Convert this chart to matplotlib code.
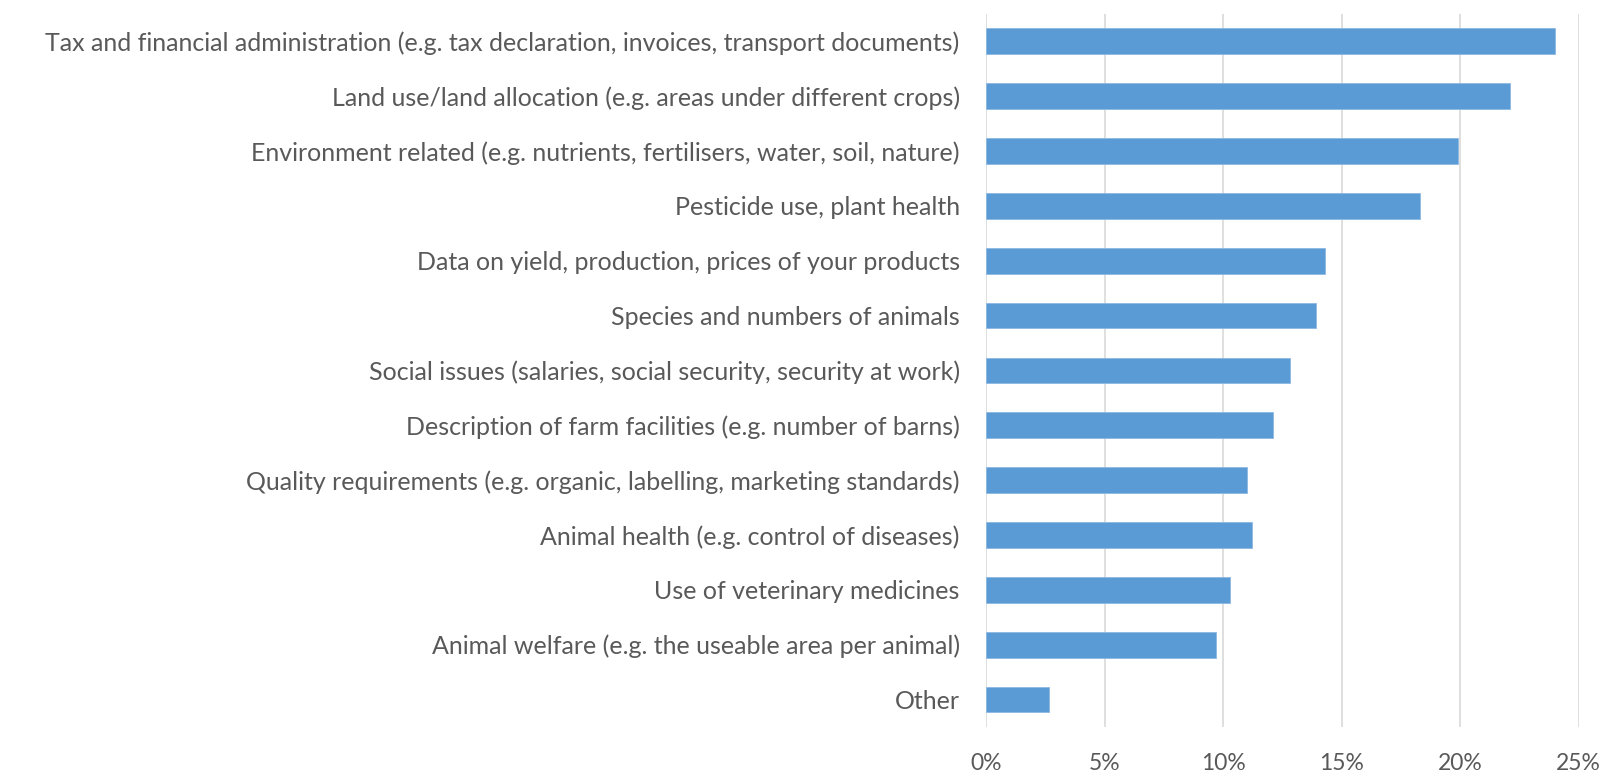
import matplotlib
matplotlib.use("Agg")
import matplotlib.pyplot as plt
from matplotlib.ticker import FuncFormatter

plt.rcParams["font.family"] = ["Lato", "DejaVu Sans"]

# categories, top to bottom as in the chart
categories = [
    "Tax and financial administration (e.g. tax declaration, invoices, transport documents)",
    "Land use/land allocation (e.g. areas under different crops)",
    "Environment related (e.g. nutrients, fertilisers, water, soil, nature)",
    "Pesticide use, plant health",
    "Data on yield, production, prices of your products",
    "Species and numbers of animals",
    "Social issues (salaries, social security, security at work)",
    "Description of farm facilities (e.g. number of barns)",
    "Quality requirements (e.g. organic, labelling, marketing standards)",
    "Animal health (e.g. control of diseases)",
    "Use of veterinary medicines",
    "Animal welfare (e.g. the useable area per animal)",
    "Other",
]
shares = [24.0, 22.1, 19.9, 18.3, 14.3, 13.9, 12.8, 12.1, 11.0, 11.2, 10.3, 9.7, 2.65]
x_ticks = [0, 5, 10, 15, 20, 25]

TEXT = "#595959"
BAR = "#5B9BD5"
GRID = "#D9D9D9"

fig = plt.figure(figsize=(16.06, 7.75), dpi=100)
ax = fig.add_axes([0.614, 0.062, 0.369, 0.920])

ypos = list(range(len(categories)))
ax.barh(ypos, shares, height=0.47, color=BAR, edgecolor="#8DB8E2", linewidth=0.6, zorder=3)
ax.set_ylim(len(categories) - 0.5, -0.5)
ax.set_xlim(0, 25)
ax.set_yticks(ypos)
ax.set_yticklabels(categories, fontsize=18, color=TEXT)
ax.set_xticks(x_ticks)
ax.xaxis.set_major_formatter(FuncFormatter(lambda v, p: f"{v:.0f}%"))
ax.tick_params(axis="y", length=0, pad=19)
ax.tick_params(axis="x", length=0, pad=19, labelsize=16.5, labelcolor=TEXT)

ax.grid(True, axis="x", color=GRID, linewidth=1.2, zorder=0)
for s in ax.spines.values():
    s.set_visible(False)

fig.savefig("out.png", dpi=100, facecolor="white")
